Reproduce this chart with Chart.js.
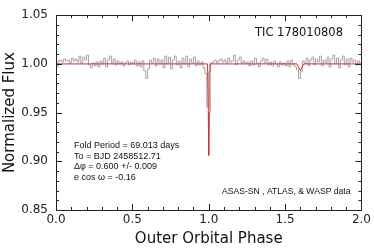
<!DOCTYPE html>
<html>
<head>
<meta charset="utf-8">
<script src="https://cdn.jsdelivr.net/npm/chart.js@4/dist/chart.umd.min.js"></script>
<style>
html,body{margin:0;padding:0;background:#fff;}
#wrap{width:374px;height:248px;position:relative;}
</style>
</head>
<body>
<div id="wrap"><canvas id="c" width="374" height="248"></canvas></div>
<script>
// ---- data ----
const binWidth = 0.0125;
const grayFlux = [
  0.997, 1.003, 1.004, 1.002, 1.005, 1.003, 1.004, 1.001, 1.006, 1.003,
  1.005, 1.002, 1.008, 1.001, 1.007, 1.004, 1.009, 0.999, 0.996, 1.001,
  0.998, 1.002, 0.997, 1.003, 1.000, 1.006, 0.997, 1.004, 1.008, 1.001,
  1.005, 0.999, 1.003, 1.000, 1.002, 0.998, 1.001, 1.003, 0.999, 1.002,
  1.000, 1.004, 0.998, 1.002, 0.997, 1.003, 0.993, 0.985, 0.995, 1.004,
  1.001, 1.006, 0.998, 1.005, 1.000, 1.004, 0.996, 1.008, 1.000, 1.007,
  0.995, 1.004, 1.008, 0.999, 1.003, 0.996, 1.006, 1.000, 1.008, 0.997,
  1.005, 1.001, 1.007, 0.998, 1.003, 0.999, 1.002, 0.996, 0.990, 0.956,
  0.992, 1.001, 1.002, 1.004, 1.001, 1.003, 1.005, 1.002, 1.004, 1.001,
  1.006, 1.002, 1.003, 1.009, 0.999, 1.004, 1.007, 1.001, 1.003, 1.000,
  1.002, 0.998, 1.003, 0.999, 1.006, 1.001, 0.997, 1.003, 1.006, 1.001,
  1.005, 0.999, 1.002, 0.998, 1.003, 1.000, 0.997, 1.002, 0.999, 1.001,
  0.998, 1.003, 0.997, 1.004, 0.999, 0.997, 0.994, 0.985, 0.992, 1.003,
  1.000, 1.006, 0.998, 1.004, 1.007, 0.999, 1.005, 1.002, 1.008, 0.998,
  1.004, 1.001, 1.007, 0.997, 1.005, 1.009, 1.000, 1.006, 0.996, 1.004,
  1.008, 0.999, 1.005, 0.997, 1.006, 1.002, 1.004, 0.999, 1.003, 1.001
];
const grayPhase = grayFlux.map((_, i) => (i + 0.5) * binWidth);

const modelPhase = [0.000, 0.992, 0.997, 1.000, 1.003, 1.008, 1.578, 1.600, 1.622, 2.000];
const modelFlux  = [1.000, 1.000, 0.950, 0.906, 0.950, 1.000, 1.000, 0.993, 1.000, 1.000];

const xTicks = [0.0, 0.5, 1.0, 1.5, 2.0];
const xTickLabels = ['0.0', '0.5', '1.0', '1.5', '2.0'];
const yTicks = [0.85, 0.90, 0.95, 1.00, 1.05];
const yTickLabels = ['0.85', '0.90', '0.95', '1.00', '1.05'];

const titleText = 'TIC 178010808';
const infoLines = [
  'Fold Period = 69.013 days',
  'To = BJD 2458512.71',
  '\u0394\u03c6 = 0.600 +/- 0.009',
  'e cos \u03c9 = -0.16'
];
const sourceText = 'ASAS-SN , ATLAS, & WASP data';

// ---- chart ----
const FONT = "'DejaVu Sans', sans-serif";
const SMALL = "'Liberation Sans', Arial, sans-serif";

const framePlugin = {
  id: 'frame',
  afterDraw(chart) {
    const {ctx, chartArea: a, scales: {x, y}} = chart;
    ctx.save();
    ctx.strokeStyle = '#222';
    ctx.lineWidth = 1;
    ctx.strokeRect(Math.round(a.left) + 0.5, Math.round(a.top) + 0.5,
                   Math.round(a.right - a.left), Math.round(a.bottom - a.top));
    ctx.beginPath();
    for (let i = 0; i <= 20; i++) {
      const v = i * 0.1;
      const px = Math.round(x.getPixelForValue(v)) + 0.5;
      const len = (i % 5 === 0) ? 6 : 3;
      ctx.moveTo(px, a.bottom); ctx.lineTo(px, a.bottom - len);
      ctx.moveTo(px, a.top); ctx.lineTo(px, a.top + len);
    }
    for (let i = 0; i <= 20; i++) {
      const v = 0.85 + i * 0.01;
      const py = Math.round(y.getPixelForValue(v)) + 0.5;
      const len = (i % 5 === 0) ? 6 : 3;
      ctx.moveTo(a.left, py); ctx.lineTo(a.left + len, py);
      ctx.moveTo(a.right, py); ctx.lineTo(a.right - len, py);
    }
    ctx.stroke();

    ctx.fillStyle = '#111';
    ctx.textAlign = 'left';
    ctx.textBaseline = 'alphabetic';
    ctx.font = "11.5px " + FONT;
    ctx.fillText(titleText, a.left + 199, a.top + 21);
    ctx.font = "9px " + SMALL;
    const base = [148, 158.8, 169.3, 180];
    infoLines.forEach((t, i) => ctx.fillText(t, a.left + 18, base[i]));
    ctx.font = "8.6px " + SMALL;
    ctx.fillText(sourceText, a.left + 166, 193.7);
    ctx.restore();
  }
};

new Chart(document.getElementById('c'), {
  type: 'line',
  data: {
    datasets: [
      {
        label: 'model',
        data: modelPhase.map((p, i) => ({x: p, y: modelFlux[i]})),
        borderColor: 'rgb(200,55,55)',
        borderWidth: 1,
        pointRadius: 0,
        tension: 0,
        order: 0
      },
      {
        label: 'data',
        data: grayPhase.map((p, i) => ({x: p, y: grayFlux[i]})),
        borderColor: '#a3a3a3',
        borderWidth: 1,
        pointRadius: 0,
        stepped: 'middle',
        order: 1
      }
    ]
  },
  options: {
    responsive: false,
    animation: false,
    events: [],
    layout: {padding: {top: 9, right: 11, left: 0, bottom: 0}},
    plugins: {legend: {display: false}, tooltip: {enabled: false}},
    scales: {
      x: {
        type: 'linear', min: 0, max: 2,
        afterBuildTicks: s => { s.ticks = xTicks.map(v => ({value: v})); },
        ticks: {
          callback: (v, i) => xTickLabels[i],
          font: {family: FONT, size: 12}, color: '#222', padding: 3,
          maxRotation: 0, autoSkip: false
        },
        grid: {display: false, drawTicks: false},
        border: {display: false},
        title: {display: true, text: 'Outer Orbital Phase', color: '#111',
                font: {family: FONT, size: 15}, padding: {top: 0, bottom: 0}},
        afterFit: s => { s.height = 38; }
      },
      y: {
        min: 0.85, max: 1.05,
        afterBuildTicks: s => { s.ticks = yTicks.map(v => ({value: v})); },
        ticks: {
          callback: (v, i) => yTickLabels[i],
          font: {family: FONT, size: 12}, color: '#222', padding: 8,
          autoSkip: false
        },
        grid: {display: false, drawTicks: false},
        border: {display: false},
        title: {display: true, text: 'Normalized Flux', color: '#111',
                font: {family: FONT, size: 15}, padding: {top: 1, bottom: 0}},
        afterFit: s => { s.width = 56; }
      }
    }
  },
  plugins: [framePlugin]
});
</script>
</body>
</html>
